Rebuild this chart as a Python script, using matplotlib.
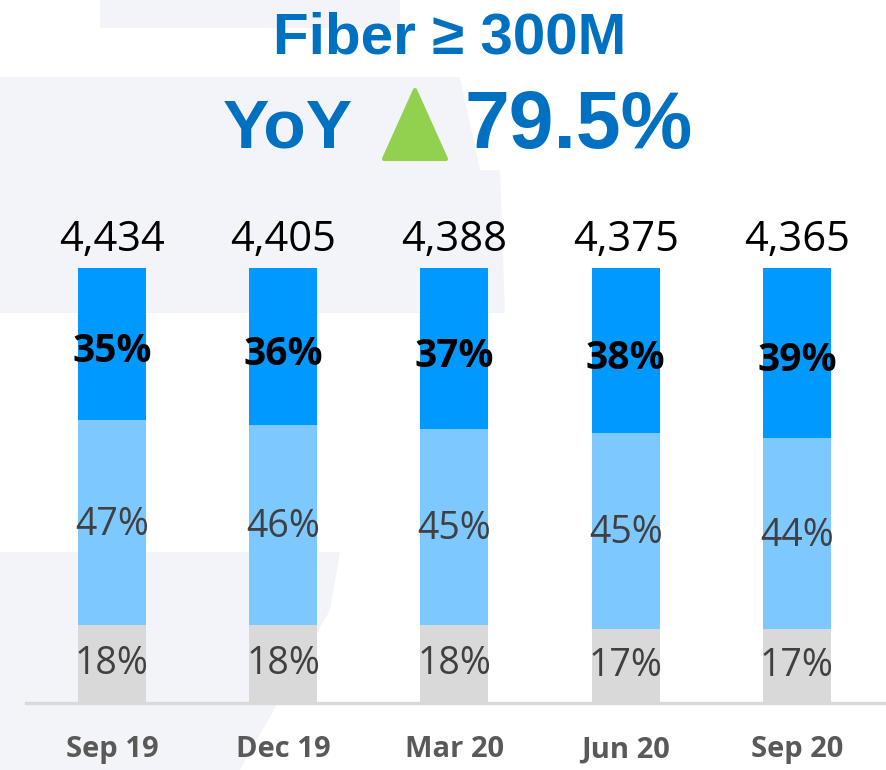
import matplotlib
matplotlib.use("Agg")
import matplotlib.pyplot as plt
from matplotlib.patches import Polygon

categories = ["Sep 19", "Dec 19", "Mar 20", "Jun 20", "Sep 20"]
totals = ["4,434", "4,405", "4,388", "4,375", "4,365"]
share_low = [18, 18, 18, 17, 17]      # grey
share_mid = [47, 46, 45, 45, 44]      # light blue
share_high = [35, 36, 37, 38, 39]     # blue (>=300M)
title = "Fiber \u2265 300M"
yoy_value = "79.5%"

W, H = 887, 770
fig = plt.figure(figsize=(W / 100, H / 100), dpi=100)
fig.patch.set_facecolor("white")

def fx(px):
    return px / W

def fy(py):
    return 1 - py / H

# faint watermark shapes (background)
wm = "#F3F4F9"
for pts in [
    [(100, 0), (400, 0), (400, 28), (100, 28)],
    [(0, 77), (460, 77), (480, 170), (500, 170), (505, 313), (0, 313)],
    [(0, 552), (340, 552), (330, 610), (240, 770), (0, 770)],
]:
    fig.patches.append(Polygon([(fx(x), fy(y)) for x, y in pts], closed=True,
                               transform=fig.transFigure, facecolor=wm,
                               edgecolor="none", zorder=-10))

left_px, right_px = 26, 887
base_px, top_px = 703, 268
ax = fig.add_axes([fx(left_px), fy(base_px), fx(right_px) - fx(left_px), (base_px - top_px) / H])
ax.set_zorder(1)
ax.set_facecolor("none")
x0 = 112
step = 171.25
ax.set_xlim((left_px - x0) / step, (right_px - x0) / step)
ax.set_ylim(0, 100)

xs = list(range(len(categories)))
bw = 68 / step
c_low, c_mid, c_high = "#D9D9D9", "#7DC8FF", "#0099FF"
bot_mid = share_low
bot_high = [a + b for a, b in zip(share_low, share_mid)]
ax.bar(xs, share_low, bw, color=c_low, zorder=2)
ax.bar(xs, share_mid, bw, bottom=bot_mid, color=c_mid, zorder=2)
ax.bar(xs, [100 - b for b in bot_high], bw, bottom=bot_high, color=c_high, zorder=2)

num_font = "Open Sans"
for i in xs:
    ax.text(i, share_low[i] / 2, f"{share_low[i]}%", ha="center", va="center",
            fontsize=27, color="#404040", family=num_font, zorder=3)
    ax.text(i, bot_mid[i] + share_mid[i] / 2 - 0.5, f"{share_mid[i]}%", ha="center", va="center",
            fontsize=27, color="#404040", family=num_font, zorder=3)
    ax.text(i, bot_high[i] + (100 - bot_high[i]) / 2 - 1.8, f"{share_high[i]}%", ha="center",
            va="center", fontsize=28, fontweight="bold", color="black", family=num_font, zorder=3)
    ax.text(i, 104.0, totals[i], ha="center", va="baseline", fontsize=30,
            color="black", family=num_font, clip_on=False)
    ax.text(i, -10.8, categories[i], ha="center", va="center", fontsize=21,
            fontweight="bold", color="#595959", family=num_font, clip_on=False)

for s in ["top", "right", "left"]:
    ax.spines[s].set_visible(False)
ax.spines["bottom"].set_color("#D9D9D9")
ax.spines["bottom"].set_linewidth(2.4)
ax.set_xticks([])
ax.set_yticks([])

blue = "#0070C0"
fig.text(fx(450), fy(54), title, ha="center", va="baseline", fontsize=42,
         fontweight="bold", color=blue, family="Liberation Sans", zorder=5)
fig.text(fx(223), fy(148), "YoY", ha="left", va="baseline", fontsize=50,
         fontweight="bold", color=blue, family="Liberation Sans", zorder=5)
fig.text(fx(465), fy(148), yoy_value, ha="left", va="baseline", fontsize=58,
         fontweight="bold", color=blue, family="Liberation Sans", zorder=5)
tri = Polygon([(fx(384), fy(159)), (fx(446), fy(159)), (fx(415), fy(90))], closed=True,
              transform=fig.transFigure, facecolor="#92D050", edgecolor="#92D050",
              linewidth=3, joinstyle="round", zorder=5)
fig.patches.append(tri)

fig.savefig("out.png", dpi=100)
